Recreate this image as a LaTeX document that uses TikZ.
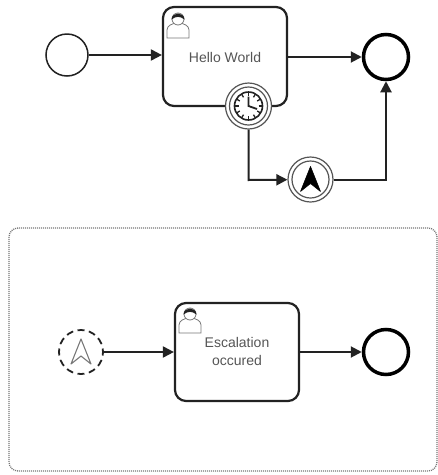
\documentclass[tikz,border=0pt]{standalone}
\usepackage{fontspec}
\setmainfont{Liberation Sans}
\usetikzlibrary{arrows.meta}
\definecolor{ink}{HTML}{222222}
\definecolor{labelc}{HTML}{555555}
\definecolor{iconc}{HTML}{777777}
\definecolor{ringc}{HTML}{555555}
\tikzset{
  flow/.style={draw=ink,line width=2pt,-{Triangle[length=11pt,width=11pt]}},
  taskbox/.style={draw=ink,line width=2.2pt,rounded corners=11pt,fill=white,inner sep=0pt},
  tasklabel/.style={font=\fontsize{14}{18}\selectfont,text=labelc,align=center,inner sep=0pt},
  startev/.style={circle,draw=ink,line width=1.5pt,fill=white,minimum size=42pt,inner sep=0pt},
  endev/.style={circle,draw=black,line width=3.5pt,fill=white,minimum size=45pt,inner sep=0pt},
  ring/.style={circle,draw=ringc,line width=1.2pt,fill=white,inner sep=0pt},
  dashev/.style={circle,draw=ink,line width=1.8pt,dash pattern=on 7pt off 4.5pt,dash phase=3.5pt,fill=white,minimum size=44pt,inner sep=0pt},
  framebox/.style={draw=iconc,line width=1.3pt,dash pattern=on 1pt off 1pt,rounded corners=9pt,inner sep=0pt},
  usericon/.pic={
    \draw[iconc,line width=.8pt,fill=white] (-11,14) -- (-11,6) .. controls (-11,1) and (-5,0) .. (-3,-1) -- (3,-1) .. controls (5,0) and (11,1) .. (11,6) -- (11,14) -- cycle;
    \draw[iconc,line width=.8pt,fill=white] (0,-5) circle (6pt);
    \fill[ink] (-6.5,-4.5) .. controls (-6,-12.5) and (6,-12.5) .. (6.5,-4.5) .. controls (2,-8) and (-2,-8) .. (-6.5,-4.5) -- cycle;
  },
  escarrow/.pic={
    \draw[pic actions,line join=round] (0,-13) -- (10,12) -- (0,4) -- (-10,12) -- cycle;
  }
}
\begin{document}
\begin{tikzpicture}[x=1pt,y=-1pt]
\useasboundingbox (0,0) rectangle (438,475);
\fill[white] (0,0) rectangle (438,475);
\node[framebox,minimum width=428pt,minimum height=243pt] (frame) at (223,349.5) {};
% top process
\node[startev] (start) at (67,55) {};
\node[taskbox,minimum width=124pt,minimum height=99pt] (hello) at (225,56.5) {};
\node[tasklabel] (hellotext) at (225,57) {Hello World};
\pic at (178,24) {usericon};
\node[endev] (end1) at (386,57) {};
\node[ring,minimum size=46pt] (timer) at (248.5,106) {};
\node[ring,minimum size=38pt] (timer2) at (248.5,106) {};
\node[ring,minimum size=28pt,draw=ink,line width=1.6pt] (clock) at (248.5,106) {};
\foreach \a in {0,30,...,330}{
  \draw[ink,line width=1.3pt] (248.5,106) ++(\a:10) -- ++(\a:3.5);
}
\draw[ink,line width=1.8pt] (248.5,96.5) -- (248.5,106) -- (257,109);
\node[ring,minimum size=45pt] (inter) at (310.5,179.5) {};
\node[ring,minimum size=37pt] (inter2) at (310.5,179.5) {};
\pic[fill=black,draw=black,line width=.6pt] at (310.5,179.5) {escarrow};
\coordinate (corner1) at (248.5,180);
\coordinate (corner2) at (386,180);
\draw[flow] (start) -- (hello.west |- start);
\draw[flow] (hello.east |- end1) -- (end1);
\draw[flow] (timer.south) -- (corner1) -- (inter);
\draw[flow] (inter.east |- corner2) -- (corner2) -- (end1);
% bottom process
\node[dashev] (esc) at (81,352) {};
\pic[draw=iconc,line width=1.1pt] at (81,352) {escarrow};
\node[taskbox,minimum width=124pt,minimum height=98pt] (occ) at (237,352) {};
\node[tasklabel] (occtext) at (237,351) {Escalation\\occured};
\pic at (190,319) {usericon};
\node[endev] (end2) at (386,352) {};
\draw[flow] (esc) -- (occ.west |- esc);
\draw[flow] (occ.east |- end2) -- (end2);
\end{tikzpicture}
\end{document}
